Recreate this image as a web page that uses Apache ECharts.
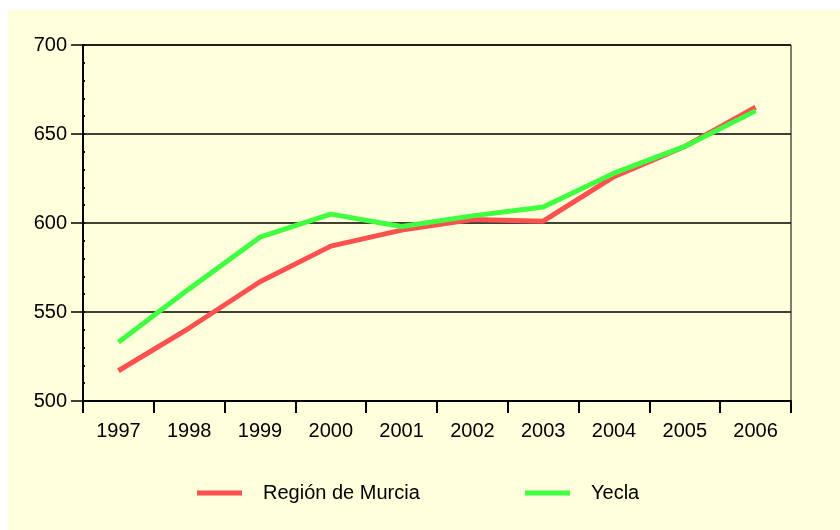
<!DOCTYPE html>
<html>
<head>
<meta charset="utf-8">
<script src="https://cdn.jsdelivr.net/npm/echarts@6/dist/echarts.min.js"></script>
<style>
  html, body { margin: 0; padding: 0; background: #ffffff; }
  #wrap { position: relative; width: 840px; height: 530px; }
  #bg { position: absolute; left: 8px; top: 10px; width: 832px; height: 520px; background: #FFFFDC; }
  #chart { position: absolute; left: 0; top: 0; width: 840px; height: 530px; }
</style>
</head>
<body>
<div id="wrap"><div id="bg"></div><div id="chart"></div></div>
<script>
const years = ['1997','1998','1999','2000','2001','2002','2003','2004','2005','2006'];
const murcia = [517, 541, 567, 587, 596, 602, 601, 626, 643, 665];
const yecla  = [533, 563, 592, 605, 598, 604, 609, 628, 643, 663];
const seriesNames = ['Región de Murcia', 'Yecla'];
const seriesColors = ['#FF5050', '#40FF40'];

const FONT = '"Liberation Sans", Arial, sans-serif';
const chart = echarts.init(document.getElementById('chart'));

function legendFor(i, left) {
  return {
    left: left, top: 478,
    data: [seriesNames[i]],
    icon: 'rect', itemWidth: 45, itemHeight: 5,
    textStyle: { fontFamily: FONT, fontSize: 20, color: '#000', padding: [0, 0, 0, 16] },
    selectedMode: false
  };
}

chart.setOption({
  backgroundColor: 'transparent',
  animation: false,
  grid: { left: 83, top: 45, right: 49, bottom: 129, show: true, borderColor: '#000', borderWidth: 1, backgroundColor: 'transparent' },
  legend: [legendFor(0, 192), legendFor(1, 520)],
  xAxis: {
    type: 'category', data: years, boundaryGap: true,
    axisLine: { show: true, lineStyle: { color: '#000', width: 2 } },
    axisTick: { show: true, length: 12, alignWithLabel: false, lineStyle: { color: '#000', width: 2 } },
    axisLabel: { fontFamily: FONT, fontSize: 20, color: '#000', margin: 20 },
    splitLine: { show: false }
  },
  yAxis: [{
    type: 'value', min: 500, max: 700, interval: 50,
    axisLine: { show: true, lineStyle: { color: '#000', width: 2 } },
    axisTick: { show: true, length: 12, lineStyle: { color: '#000', width: 1.5 } },
    axisLabel: { fontFamily: FONT, fontSize: 20, color: '#000', margin: 16 },
    splitLine: { show: true, lineStyle: { color: '#000', width: 1.5 } }
  }, {
    type: 'value', position: 'left', min: 500, max: 700, interval: 10,
    axisLine: { show: false },
    axisTick: { show: true, inside: true, length: 2, lineStyle: { color: '#000', width: 2 } },
    axisLabel: { show: false },
    splitLine: { show: false }
  }],
  series: [0, 1].map(i => ({
    name: seriesNames[i], type: 'line',
    data: i === 0 ? murcia : yecla,
    showSymbol: false, symbol: 'none',
    color: seriesColors[i],
    lineStyle: { color: seriesColors[i], width: 5 },
    itemStyle: { color: seriesColors[i] }
  }))
});
</script>
</body>
</html>
